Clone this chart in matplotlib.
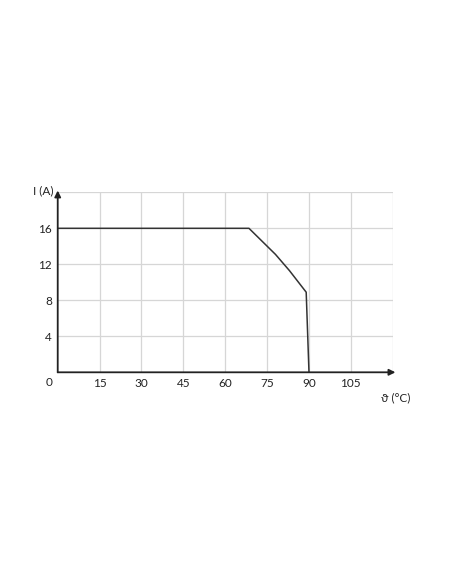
import matplotlib
matplotlib.use("Agg")
import matplotlib.pyplot as plt

# derating curve: temperature (°C) vs current (A)
temp = [0, 68.5, 78, 83, 89, 90]
current = [16, 16, 13.1, 11.3, 8.9, 0]

x_ticks = [15, 30, 45, 60, 75, 90, 105, 120]
x_labels = ["15", "30", "45", "60", "75", "90", "105", ""]
y_ticks = [4, 8, 12, 16, 20]
y_labels = ["4", "8", "12", "16", ""]

plt.rcParams["font.family"] = ["Lato", "DejaVu Sans"]

fig = plt.figure(figsize=(4.52, 5.84), dpi=100)
ax = fig.add_axes([0.1277, 0.3625, 0.7412, 0.3082])

ax.plot(temp, current, color="#333333", linewidth=1.1, zorder=3)

ax.set_xlim(0, 120)
ax.set_ylim(0, 20)
ax.set_xticks(x_ticks)
ax.set_xticklabels(x_labels)
ax.set_yticks(y_ticks)
ax.set_yticklabels(y_labels)
ax.tick_params(length=0, labelsize=8.5, colors="#222222")
ax.tick_params(axis="x", pad=4)
ax.tick_params(axis="y", pad=4)
ax.grid(True, color="#d6d6d6", linewidth=0.9)
ax.set_axisbelow(True)

for s in ax.spines.values():
    s.set_visible(False)

# axes with arrows
ax.annotate("", xy=(1.008, 0), xytext=(0, 0), xycoords="axes fraction",
            arrowprops=dict(arrowstyle="-|>", color="#222222", lw=1.3,
                            mutation_scale=9, shrinkA=0, shrinkB=0))
ax.annotate("", xy=(0, 1.01), xytext=(0, 0), xycoords="axes fraction",
            arrowprops=dict(arrowstyle="-|>", color="#222222", lw=1.3,
                            mutation_scale=9, shrinkA=0, shrinkB=0))

ax.text(-0.025, -0.058, "0", transform=ax.transAxes, ha="center", va="center",
        fontsize=8.5, color="#222222")
ax.text(-0.014, 1.01, "I (A)", transform=ax.transAxes, ha="right", va="center",
        fontsize=8.5, color="#222222")
ax.text(1.01, -0.14, "ϑ (°C)", transform=ax.transAxes, ha="center", va="center",
        fontsize=8.5, color="#222222")

fig.savefig("out.png", dpi=100)
